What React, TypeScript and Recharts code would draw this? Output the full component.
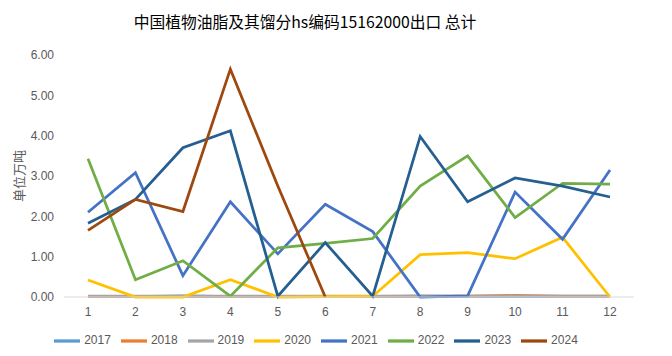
import { LineChart, Line, XAxis, YAxis, Legend } from "recharts";

// 月份
const months = ["1", "2", "3", "4", "5", "6", "7", "8", "9", "10", "11", "12"];

// 各年度出口量（万吨）
const y2017 = [0.01, 0.01, 0.03, 0.01, 0.01, 0.01, 0.01, 0.01, 0.01, 0.01, 0.01, 0.01];
const y2018 = [0.01, 0.01, 0.01, 0.01, 0.01, 0.01, 0.01, 0.02, 0.02, 0.04, 0.02, 0.02];
const y2019 = [0.02, 0.02, 0.02, 0.02, 0.02, 0.02, 0.02, 0.03, 0.02, 0.02, 0.02, 0.02];
const y2020 = [0.42, 0.0, 0.0, 0.43, 0.0, 0.01, 0.02, 1.05, 1.1, 0.95, 1.48, 0.0];
const y2021 = [2.1, 3.08, 0.53, 2.36, 1.07, 2.3, 1.62, 0.0, 0.03, 2.6, 1.43, 3.15];
const y2022 = [3.43, 0.43, 0.9, 0.02, 1.22, 1.33, 1.45, 2.75, 3.5, 1.97, 2.82, 2.8];
const y2023 = [1.83, 2.42, 3.7, 4.12, 0.02, 1.35, 0.02, 3.98, 2.36, 2.95, 2.75, 2.48];
const y2024 = [1.65, 2.42, 2.12, 5.65, 2.75, 0.0];

const yTicks = [0, 1, 2, 3, 4, 5, 6];

const series = [
  { key: "2017", values: y2017, color: "#5B9BD5" },
  { key: "2018", values: y2018, color: "#ED7D31" },
  { key: "2019", values: y2019, color: "#A5A5A5" },
  { key: "2020", values: y2020, color: "#FFC000" },
  { key: "2021", values: y2021, color: "#4472C4" },
  { key: "2022", values: y2022, color: "#70AD47" },
  { key: "2023", values: y2023, color: "#255E91" },
  { key: "2024", values: y2024, color: "#9E480E" },
];

const data = months.map((m, i) => {
  const row: Record<string, string | number | null> = { month: m };
  series.forEach((s) => {
    row[s.key] = i < s.values.length ? s.values[i] : null;
  });
  return row;
});

const FONT = "'Liberation Sans Narrow', 'Liberation Sans', Arial, sans-serif";

export default function App() {
  return (
    <div style={{ position: "relative", width: 656, height: 348 }}>
      <div
        style={{
          position: "absolute",
          top: 2,
          left: 0,
          width: 594,
          textAlign: "center",
          fontFamily: "'Noto Sans CJK SC', sans-serif",
          fontSize: 15.75,
          color: "#000",
        }}
      >
        中国植物油脂及其馏分hs编码15162000出口 总计
      </div>
      <LineChart
        width={656}
        height={348}
        data={data}
        margin={{ top: 47, right: 30, bottom: 2, left: 0 }}
      >
        <XAxis
          dataKey="month"
          height={31}
          padding={{ left: 24, right: 24 }}
          axisLine={{ stroke: "#D9D9D9" }}
          tickLine={false}
          tickMargin={4}
          tick={{ fill: "#595959", fontSize: 12, fontFamily: FONT }}
        />
        <YAxis
          width={56}
          domain={[0, 6]}
          ticks={yTicks}
          axisLine={false}
          tickLine={false}
          tickMargin={4}
          tickFormatter={(v: number) => v.toFixed(2)}
          tick={{ fill: "#595959", fontSize: 12, fontFamily: FONT }}
          label={{
            value: "单位万吨",
            angle: -90,
            position: "insideLeft",
            offset: 11,
            style: {
              textAnchor: "middle",
              fill: "#595959",
              fontSize: 13,
              fontFamily: "'Noto Sans CJK SC', sans-serif",
            },
          }}
        />
        <Legend
          verticalAlign="bottom"
          align="center"
          iconType="plainline"
          iconSize={26}
          wrapperStyle={{ fontSize: 12, fontFamily: FONT, color: "#595959" }}
          formatter={(value) => <span style={{ color: "#595959" }}>{value}</span>}
        />
        {series.map((s) => (
          <Line
            key={s.key}
            dataKey={s.key}
            stroke={s.color}
            strokeWidth={2.75}
            dot={false}
            activeDot={false}
            isAnimationActive={false}
            connectNulls={false}
          />
        ))}
      </LineChart>
    </div>
  );
}
